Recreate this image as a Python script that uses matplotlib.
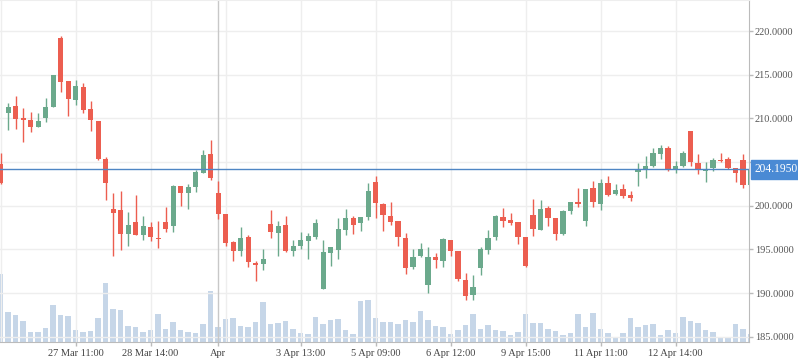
import matplotlib
matplotlib.use("Agg")
from matplotlib import pyplot as plt
from matplotlib.patches import Rectangle
import matplotlib.transforms as mtransforms
import numpy as np

plt.rcParams['font.family'] = ['Liberation Serif', 'DejaVu Serif']

# OHLC per candle (one candle every step)
opens = [204.78, 210.66, 211.42, 210.05, 209.82, 209.05, 210.08, 211.34, 219.20, 214.28,
         212.11, 213.59, 211.08, 209.70, 205.35, 199.63, 199.52, 196.81, 198.15, 196.70,
         197.57, 196.32, 198.15, 197.73, 202.27, 201.50, 202.19, 203.79, 205.93, 201.46,
         199.06, 195.90, 194.87, 196.43, 193.42, 193.38, 197.92, 196.93, 197.80, 194.87,
         195.44, 196.01, 196.47, 190.52, 194.64, 194.98, 197.27, 198.60, 198.03, 198.72,
         202.72, 200.24, 198.83, 198.26, 196.32, 193.04, 194.26, 190.98, 194.14, 193.72,
         196.09, 194.83, 191.55, 189.83, 192.92, 194.98, 196.47, 198.72, 198.38, 198.15,
         196.43, 198.95, 197.27, 199.75, 198.60, 196.81, 199.41, 200.43, 198.30, 202.04,
         200.24, 202.61, 201.39, 201.92, 201.24, 203.91, 204.17, 204.55, 205.93, 206.61,
         204.17, 204.55, 208.56, 204.90, 204.02, 204.36, 205.24, 205.35, 204.32, 205.24,
         202.38]
highs = [206.08, 211.76, 212.56, 211.19, 210.73, 210.62, 212.33, 214.97, 219.43, 214.28,
         214.39, 214.05, 211.99, 209.70, 205.58, 201.46, 201.69, 199.29, 201.27, 198.83,
         198.15, 198.26, 199.86, 202.42, 202.27, 202.49, 204.10, 206.38, 207.53, 202.84,
         199.06, 196.01, 197.57, 196.66, 193.72, 195.06, 199.52, 198.26, 198.83, 196.09,
         197.00, 196.89, 198.49, 196.09, 195.29, 198.60, 199.63, 198.83, 198.72, 202.61,
         203.41, 200.36, 200.43, 198.26, 196.89, 195.06, 195.74, 195.29, 194.60, 196.32,
         196.09, 194.83, 192.35, 192.12, 195.29, 197.23, 198.95, 199.75, 199.18, 198.15,
         196.43, 200.78, 200.66, 199.98, 198.60, 199.52, 200.43, 202.04, 201.92, 202.84,
         203.07, 203.41, 202.49, 202.49, 201.69, 204.90, 205.70, 206.61, 206.96, 206.84,
         205.13, 206.27, 208.56, 205.93, 205.01, 205.47, 206.00, 205.58, 204.32, 205.93,
         204.60]
lows = [202.55, 208.71, 208.79, 207.30, 208.48, 209.05, 209.63, 211.34, 213.02, 210.27,
        211.53, 210.66, 208.56, 205.24, 200.66, 194.26, 194.98, 195.44, 196.70, 196.12,
        196.01, 195.21, 197.04, 197.04, 200.02, 199.67, 201.62, 203.79, 202.99, 198.53,
        195.44, 193.72, 194.29, 193.04, 191.43, 192.69, 196.35, 194.29, 194.75, 194.29,
        195.10, 193.95, 196.24, 190.52, 193.15, 193.95, 196.70, 196.81, 197.15, 198.38,
        198.64, 197.15, 197.80, 195.44, 192.23, 192.81, 194.14, 190.06, 192.92, 193.04,
        194.25, 191.43, 189.26, 189.26, 192.12, 194.52, 196.12, 197.61, 197.84, 195.67,
        193.04, 196.58, 197.27, 197.73, 196.12, 196.70, 199.10, 199.90, 197.73, 199.90,
        199.56, 201.16, 201.27, 200.93, 200.59, 202.30, 203.22, 204.44, 205.35, 203.98,
        203.75, 204.44, 204.55, 203.64, 202.72, 203.94, 205.01, 204.21, 202.76, 202.07,
        202.10]
closes = [202.65, 211.30, 209.97, 209.86, 209.05, 209.70, 211.30, 214.97, 214.20, 212.22,
          213.71, 210.96, 209.86, 205.35, 202.65, 199.21, 196.81, 197.80, 196.70, 197.69,
          196.47, 196.24, 197.35, 202.30, 201.50, 202.15, 203.87, 205.81, 203.22, 199.10,
          195.78, 194.87, 196.32, 193.61, 193.26, 193.91, 197.04, 197.69, 194.87, 195.40,
          196.09, 196.54, 198.03, 194.71, 195.29, 197.35, 198.60, 197.80, 198.72, 201.69,
          200.36, 198.99, 198.18, 196.47, 192.92, 194.14, 195.06, 194.14, 193.84, 196.20,
          194.87, 191.66, 189.72, 190.75, 195.06, 196.32, 198.83, 198.30, 198.07, 196.47,
          193.15, 197.38, 199.63, 198.64, 196.81, 199.41, 200.43, 200.24, 201.92, 200.47,
          202.61, 201.27, 201.81, 201.16, 200.93, 204.17, 204.55, 206.04, 206.61, 204.13,
          204.55, 206.04, 205.01, 204.06, 204.13, 205.24, 205.13, 204.36, 203.79, 202.42,
          204.195]
volumes = [680, 300, 270, 210, 100, 100, 140, 370, 270, 260,
           120, 100, 110, 240, 590, 330, 320, 160, 150, 100,
           120, 280, 130, 200, 120, 100, 90, 180, 510, 150,
           230, 240, 160, 150, 200, 400, 180, 190, 210, 130,
           90, 80, 250, 180, 220, 230, 120, 80, 410, 420,
           240, 200, 200, 180, 220, 200, 310, 220, 160, 150,
           80, 120, 170, 280, 130, 170, 120, 110, 70, 100,
           280, 190, 190, 130, 110, 70, 90, 280, 150, 290,
           130, 90, 40, 90, 240, 150, 170, 180, 70, 120,
           90, 250, 210, 190, 120, 100, 50, 50, 180, 130,
           80]

last_price = 204.195
tick_idx = [10, 20, 29, 40, 50, 60, 70, 80, 90]
tick_labels = ["27 Mar 11:00", "28 Mar 14:00", "Apr", "3 Apr 13:00", "5 Apr 09:00",
               "6 Apr 12:00", "9 Apr 15:00", "11 Apr 11:00", "12 Apr 14:00"]
grid_idx = [0, 10, 20, 30, 40, 50, 60, 70, 80, 90]
crosshair_idx = 29
price_ticks = [185, 190, 195, 200, 205, 210, 215, 220]
hidden_tick = 205  # covered by the last-price label

up_color = "#6ba98c"
down_color = "#ec5e50"

W, H = 798, 363
fig = plt.figure(figsize=(W / 100, H / 100), dpi=100)
ax = fig.add_axes([0, 1 - 342.3 / H, 749.3 / W, 342.3 / H])
ax2 = ax.twinx()
ax.set_zorder(ax2.get_zorder() + 1)
ax.patch.set_visible(False)

x = np.arange(len(opens))
o = np.array(opens)
c = np.array(closes)
colors = [up_color if cc >= oo else down_color for oo, cc in zip(o, c)]

# volume underneath
ax2.bar(x, volumes, width=0.7, color="#c6d6e8", zorder=1)
ax2.set_ylim(0, max(volumes) * 342.3 / 68)
ax2.set_yticks([])
for s in ax2.spines.values():
    s.set_visible(False)

# grid
for p in price_ticks:
    ax.axhline(p, color="#eeeeee", lw=1, zorder=0)
for g in grid_idx:
    ax.axvline(g, color="#eeeeee", lw=1, zorder=0)
ax.axvline(crosshair_idx, color="#c8c8c8", lw=1, zorder=1)

# candles
body_h = np.maximum(np.abs(c - o), 0.12)
ax.vlines(x, lows, highs, color=colors, lw=1, zorder=3)
ax.bar(x, body_h, bottom=np.minimum(o, c), width=0.667, color=colors, zorder=4)

# last price line and label
ax.axhline(last_price, color="#4f86c4", lw=1, zorder=5)
trans = mtransforms.blended_transform_factory(ax.transAxes, ax.transData)
ax.add_patch(Rectangle((1.002, last_price - 1.1), 0.064, 2.2, transform=trans,
                       color="#4a8ad4", clip_on=False, zorder=6))
ax.text(1.007, last_price, "204.1950", transform=trans, color="white", fontsize=8.3,
        va="center", ha="left", clip_on=False, zorder=7)

ax.set_xlim(-0.067, 99.84)
ax.set_ylim(184.38, 223.55)

ax.yaxis.tick_right()
ax.set_yticks(price_ticks)
ax.set_yticklabels(["" if p == hidden_tick else f"{p:.4f}" for p in price_ticks])
ax.tick_params(axis="y", length=3, width=1, color="#bbbbbb", labelcolor="#555555",
               labelsize=7.5, pad=1)
ax.set_xticks(tick_idx)
ax.set_xticklabels(tick_labels)
ax.tick_params(axis="x", length=3, width=1, color="#bbbbbb", labelcolor="#444444",
               labelsize=7.5, pad=2)

ax.spines["left"].set_visible(False)
ax.spines["top"].set_color("#eeeeee")
ax.spines["right"].set_color("#bbbbbb")
ax.spines["bottom"].set_color("#bbbbbb")

fig.savefig("out.png", dpi=100)
